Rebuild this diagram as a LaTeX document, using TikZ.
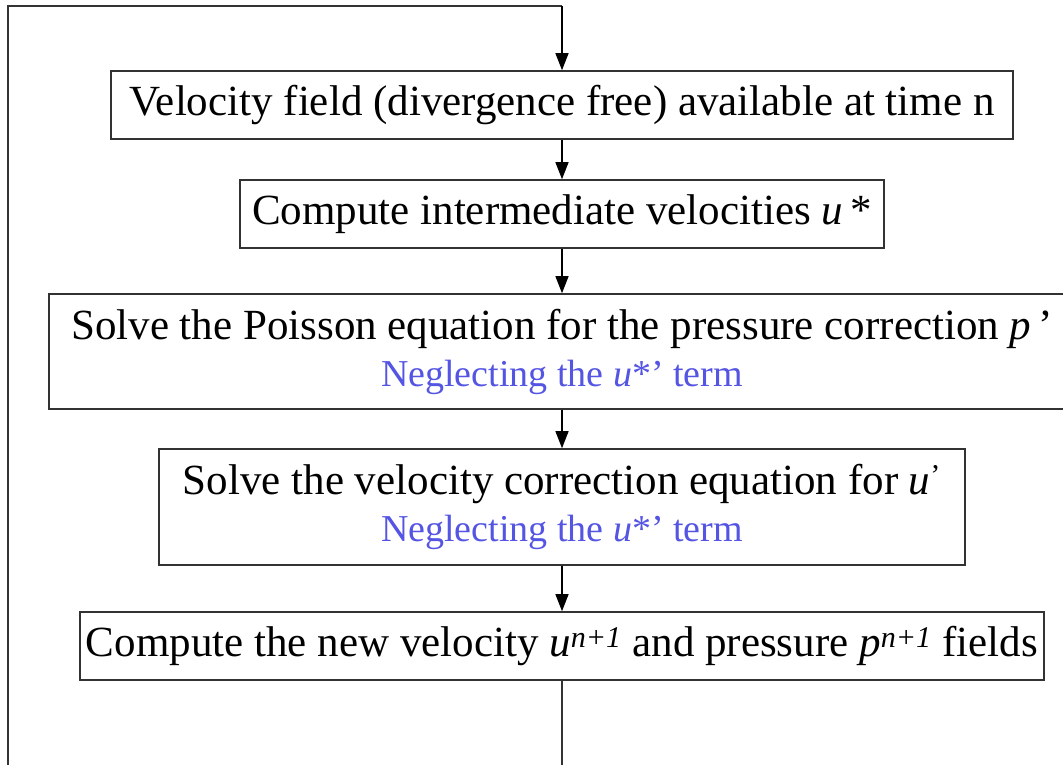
\documentclass[tikz,border=0pt]{standalone}
\usepackage{fontspec}
\setmainfont{Liberation Serif}
\usetikzlibrary{arrows.meta}
\definecolor{noteblue}{RGB}{85,85,228}
\definecolor{boxline}{RGB}{50,50,50}
\tikzset{
  stepbox/.style={draw=boxline, line width=1.6pt, rectangle, inner sep=0pt, align=center,
    font=\fontsize{43}{49}\selectfont},
  flow/.style={draw=black, line width=1.2pt, -{Triangle[length=17pt,width=13pt]}},
  loopline/.style={draw=black!80, line width=1.2pt},
}
\newcommand{\notetext}[1]{{\fontsize{38}{49}\selectfont\color{noteblue}#1}}
\begin{document}
\begin{tikzpicture}[x=1pt,y=-1pt]
\clip (0,0) rectangle (1063,764);
\fill[white] (0,0) rectangle (1063,764);
\node[stepbox, minimum width=902pt, minimum height=68pt] (b1) at (562,105)
  {Velocity field (divergence free) available at time n};
\node[stepbox, minimum width=644pt, minimum height=68pt] (b2) at (562,214)
  {Compute intermediate velocities \textit{u}\,*};
\node[stepbox, minimum width=1026pt, minimum height=115pt] (b3) at (562,351.5)
  {Solve the Poisson equation for the pressure correction \textit{p}\,’\\[-2pt]
   \notetext{Neglecting the \textit{u}*’ term}};
\node[stepbox, minimum width=806pt, minimum height=116pt] (b4) at (562,507)
  {Solve the velocity correction equation for \textit{u}\textsuperscript{’}\\[-2pt]
   \notetext{Neglecting the \textit{u}*’ term}};
\node[stepbox, minimum width=964pt, minimum height=68pt] (b5) at (562,646)
  {Compute the new velocity \textit{u}\textsuperscript{\textit{n+1}} and pressure \textit{p}\textsuperscript{\textit{n+1}} fields};
\coordinate (bot) at (562,800);
\coordinate (botleft) at (8,800);
\coordinate (topleft) at (8,6);
\coordinate (topmid) at (562,6);
\draw[flow] (b1.south) -- (b2.north);
\draw[flow] (b2.south) -- (b3.north);
\draw[flow] (b3.south) -- (b4.north);
\draw[flow] (b4.south) -- (b5.north);
\draw[loopline] (b5.south) -- (bot) -- (botleft) -- (topleft) -- (topmid);
\draw[flow] (topmid) -- (b1.north);
\end{tikzpicture}
\end{document}
